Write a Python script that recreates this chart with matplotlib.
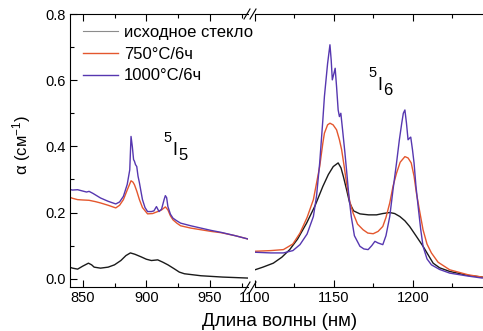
import numpy as np
import matplotlib
matplotlib.use('Agg')
import matplotlib.pyplot as plt
from matplotlib.lines import Line2D
from matplotlib.ticker import MultipleLocator, FormatStrFormatter

plt.rcParams['font.family'] = ['Liberation Sans', 'DejaVu Sans']
plt.rcParams['mathtext.default'] = 'regular'

# 5I5 band (left part of the broken axis)
wl_1000_a = [838, 842, 846, 850, 853, 855, 858, 864, 870, 876, 879, 882, 885, 887, 888, 889,
             890, 890.7, 891.5, 892.5, 893.5, 894.6, 896, 897, 899, 901, 904, 906, 908, 910,
             912, 914, 915, 916, 917, 919, 921, 924, 927, 935, 943, 951, 959, 970, 980]
glass_1000_a = [0.271, 0.268, 0.269, 0.265, 0.262, 0.264, 0.258, 0.244, 0.234, 0.226, 0.232,
                0.249, 0.285, 0.329, 0.430, 0.400, 0.360, 0.355, 0.345, 0.339, 0.310, 0.290,
                0.260, 0.239, 0.215, 0.203, 0.203, 0.205, 0.218, 0.203, 0.210, 0.239, 0.251,
                0.245, 0.218, 0.195, 0.183, 0.175, 0.168, 0.160, 0.153, 0.146, 0.140, 0.130,
                0.120]
wl_750_a = [838, 842, 846, 850, 855, 860, 864, 870, 876, 879, 882, 885, 888, 889.5, 890.7,
            892.5, 894.6, 897, 901, 905, 909, 912, 915, 917, 919, 921, 924, 927, 935, 943,
            951, 959, 970, 980]
glass_750_a = [0.249, 0.243, 0.239, 0.238, 0.237, 0.233, 0.229, 0.222, 0.214, 0.222, 0.239,
               0.268, 0.296, 0.292, 0.284, 0.265, 0.239, 0.215, 0.196, 0.197, 0.203, 0.208,
               0.217, 0.208, 0.190, 0.178, 0.168, 0.160, 0.153, 0.148, 0.143, 0.139, 0.130,
               0.120]
wl_orig_a = [838, 842, 846, 850, 854.5, 857, 859, 864, 870, 875, 880, 884, 887.5, 891, 896,
             900, 904, 909, 913, 917, 922, 926, 930, 943, 960, 980]
glass_orig_a = [0.037, 0.032, 0.029, 0.038, 0.047, 0.042, 0.035, 0.032, 0.035, 0.042, 0.055,
                0.070, 0.078, 0.074, 0.066, 0.059, 0.055, 0.057, 0.050, 0.042, 0.030, 0.020,
                0.015, 0.009, 0.005, 0.002]

# 5I6 band (right part of the broken axis)
wl_1000_b = [1100, 1110, 1118, 1124, 1128.5, 1133, 1137, 1139, 1141, 1143, 1144, 1146, 1147.5,
             1148.3, 1149, 1150, 1150.8, 1151.7, 1152.7, 1153.5, 1154.4, 1155.5, 1157, 1158,
             1159.5, 1161, 1163, 1166.5, 1169, 1171.7, 1174, 1176, 1178, 1181, 1183, 1185.4,
             1187.5, 1189.7, 1191.5, 1193, 1194, 1195, 1196, 1197, 1198, 1198.7, 1199.8,
             1200.8, 1202, 1203.4, 1205, 1206.5, 1209, 1211.8, 1217, 1223.4, 1235, 1244]
glass_1000_b = [0.080, 0.078, 0.078, 0.085, 0.103, 0.135, 0.188, 0.250, 0.350, 0.480, 0.551,
                0.650, 0.707, 0.660, 0.601, 0.620, 0.636, 0.580, 0.510, 0.490, 0.500, 0.450,
                0.380, 0.329, 0.250, 0.188, 0.130, 0.098, 0.090, 0.088, 0.100, 0.113, 0.108,
                0.103, 0.130, 0.188, 0.270, 0.350, 0.420, 0.470, 0.500, 0.510, 0.470, 0.420,
                0.425, 0.428, 0.390, 0.350, 0.280, 0.218, 0.150, 0.098, 0.060, 0.042, 0.028,
                0.017, 0.008, 0.002]
wl_750_b = [1100, 1110, 1118, 1124, 1128.5, 1133, 1137, 1141, 1143, 1144, 1146, 1147.5, 1149.5,
            1151.7, 1153.5, 1154.9, 1156.5, 1158, 1160, 1162.2, 1165, 1168.5, 1171.5, 1174.9,
            1178, 1181, 1183, 1185.4, 1187.5, 1189.7, 1192, 1195, 1197, 1199, 1200.8, 1202.3,
            1204.5, 1206.5, 1209, 1211.8, 1216, 1223.4, 1235, 1244]
glass_750_b = [0.083, 0.085, 0.088, 0.105, 0.138, 0.185, 0.239, 0.339, 0.410, 0.440, 0.465,
               0.470, 0.465, 0.450, 0.420, 0.390, 0.340, 0.289, 0.235, 0.198, 0.165, 0.148,
               0.138, 0.136, 0.143, 0.158, 0.185, 0.229, 0.280, 0.319, 0.352, 0.369, 0.365,
               0.350, 0.310, 0.259, 0.200, 0.148, 0.105, 0.078, 0.050, 0.027, 0.012, 0.005]
wl_orig_b = [1100, 1105, 1111.6, 1117, 1122, 1127, 1132.7, 1138, 1143, 1146.5, 1149.6, 1152.7,
             1154.5, 1156, 1158, 1160, 1162.5, 1166.5, 1172, 1177, 1181, 1185.4, 1188.5,
             1191.8, 1195, 1198, 1202, 1206.5, 1210, 1212.9, 1217, 1223.4, 1235, 1244]
glass_orig_b = [0.027, 0.035, 0.047, 0.065, 0.088, 0.120, 0.168, 0.220, 0.279, 0.315, 0.339,
                0.350, 0.335, 0.309, 0.270, 0.229, 0.205, 0.196, 0.193, 0.193, 0.197, 0.200,
                0.197, 0.188, 0.175, 0.158, 0.130, 0.098, 0.070, 0.047, 0.033, 0.022, 0.010,
                0.005]

labels = ['исходное стекло', '750°C/6ч', '1000°C/6ч']
c_orig = '#1a1a1a'
c_750 = '#e4572e'
c_1000 = '#5637b0'

W, H = 483, 331
fig = plt.figure(figsize=(4.83, 3.31), dpi=100)
bot = 1 - 287 / H
top = 1 - 14 / H
ax1 = fig.add_axes([70 / W, bot, (248 - 70) / W, top - bot])
ax2 = fig.add_axes([255 / W, bot, 1 - 255 / W, top - bot])

ax1.plot(wl_orig_a, glass_orig_a, color=c_orig, lw=1)
ax1.plot(wl_750_a, glass_750_a, color=c_750, lw=1)
ax1.plot(wl_1000_a, glass_1000_a, color=c_1000, lw=1)
ax2.plot(wl_orig_b, glass_orig_b, color=c_orig, lw=1)
ax2.plot(wl_750_b, glass_750_b, color=c_750, lw=1)
ax2.plot(wl_1000_b, glass_1000_b, color=c_1000, lw=1)

ax1.set_xlim(840, 980)
ax2.set_xlim(1100, 1244.5)
for ax in (ax1, ax2):
    ax.set_ylim(-0.025, 0.8)
    ax.spines['right'].set_visible(False)
    ax.xaxis.set_major_locator(MultipleLocator(50))
    ax.xaxis.set_minor_locator(MultipleLocator(25))
    ax.tick_params(which='both', direction='in', top=True, labelsize=10.5, width=0.8, pad=3)
    ax.tick_params(which='major', length=5)
    ax.tick_params(which='minor', length=3)
    for s in ax.spines.values():
        s.set_linewidth(0.8)

ax1.yaxis.set_major_locator(MultipleLocator(0.2))
ax1.yaxis.set_minor_locator(MultipleLocator(0.1))
ax1.yaxis.set_major_formatter(FormatStrFormatter('%.1f'))
ax2.spines['left'].set_visible(False)
ax2.tick_params(axis='y', which='both', left=False, labelleft=False)

fig.text(22 / W, 1 - 145 / H, 'α (см$^{-1}$)', fontsize=12, rotation=90,
         ha='center', va='center')
fig.text(280 / W, 1 - 322 / H, 'Длина волны (нм)', fontsize=13.5, ha='center', va='center')

# term labels, built from pieces like in the original
def term(x, y, sub):
    fig.text(x / W, 1 - y / H, '5', fontsize=10.5, ha='left', va='baseline')
    fig.text((x + 9) / W, 1 - (y + 13) / H, 'I', fontsize=13, ha='left', va='baseline')
    fig.text((x + 15) / W, 1 - (y + 18) / H, sub, fontsize=12, ha='left', va='baseline')

term(163, 142, '5')
term(368, 77, '6')

# break marks
for yb in (bot, top):
    for xb in (244, 250):
        fig.add_artist(Line2D([xb / W, (xb + 6) / W], [yb - 5 / H, yb + 5 / H],
                              color='black', lw=0.8))

handles = [Line2D([], [], color='#8c8c8c', lw=0.8),
           Line2D([], [], color=c_750, lw=1),
           Line2D([], [], color=c_1000, lw=1)]
ax1.legend(handles, labels, loc='upper left', bbox_to_anchor=(13 / 178, 1 - 11 / 273),
           frameon=False, fontsize=12, handlelength=2.1, handletextpad=0.35,
           labelspacing=0.4, borderaxespad=0, borderpad=0)

fig.savefig('out.png', dpi=100)
